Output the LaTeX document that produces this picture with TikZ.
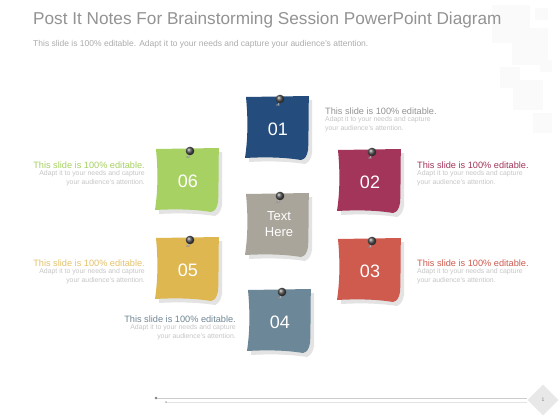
\documentclass[tikz,border=0pt]{standalone}
\usepackage{fontspec}
\setmainfont{Liberation Sans}
\usetikzlibrary{shapes.geometric}

\definecolor{noteblue}{HTML}{244C7C}
\definecolor{notewine}{HTML}{A3345A}
\definecolor{notered}{HTML}{CF5A4E}
\definecolor{noteslate}{HTML}{6C8798}
\definecolor{noteyellow}{HTML}{DFB751}
\definecolor{notegreen}{HTML}{A7D162}
\definecolor{notestone}{HTML}{A9A59A}

\tikzset{
  notenum/.style={text=white,font=\fontsize{18}{18}\selectfont,inner sep=0pt},
  headtext/.style={inner sep=0pt,font=\fontsize{9.2}{10}\selectfont},
  smalltext/.style={inner sep=0pt,text=gray!45,font=\fontsize{6.9}{8.2}\selectfont},
  tile/.style={fill=gray!4},
}

% one post-it note: name, centre x, centre y, colour, label
\newcommand{\postit}[5]{%
  \begin{scope}[shift={(#2,#3)}]
    \fill[gray!22] (-29,-28) -- (34,-28) -- (34,25) .. controls (33,31) and (31,34) .. (27,36)
      .. controls (8,33) and (-12,33) .. (-29,34) -- cycle;
    \fill[#4] (-32,-31) -- (31,-32) .. controls (30,-10) and (31,10) .. (30,22)
      .. controls (29,28) and (27,31) .. (23,32) .. controls (5,29) and (-15,29) .. (-33,30)
      .. controls (-30,10) and (-30,-10) .. cycle;
    \node[notenum] (#1) at (0,1) {#5};
    % pin
    \fill[black!45,opacity=0.6] (0,-23) ellipse (2 and 1);
    \draw[gray!60,line width=0.7pt] (2,-27) -- (0,-23);
    \shade[ball color=gray!65!black] (2,-29) circle (4.3);
  \end{scope}}

% text beside a note: name, position, side (west/east), align, title colour
\newcommand{\blurb}[5]{%
  \node[headtext,anchor=north #3,text=#5] (#1) at #2 {This slide is 100\% editable.};
  \node[smalltext,anchor=north #3,align=#4] (#1s) at ([yshift=-2pt]#1.south #3)
    {Adapt it to your needs and capture\\your audience's attention.};}

\begin{document}
\begin{tikzpicture}[x=1pt,y=-1pt]
  \useasboundingbox[fill=white] (0,0) rectangle (560,420);

  % tiles top right
  \fill[tile] (492,5) rectangle (530,43);
  \fill[tile] (535,8) rectangle (548,20);
  \fill[tile] (512,28) rectangle (548,65);
  \fill[tile] (540,60) rectangle (552,72);
  \fill[tile] (500,67) rectangle (520,88);
  \fill[tile] (513,80) rectangle (543,110);
  \fill[tile] (533,113) rectangle (552,133);

  \node[anchor=west,inner sep=0pt,text=gray!85] (title) at (33,20)
    {\fontsize{17.2}{18}\selectfont Post It Notes For Brainstorming Session PowerPoint Diagram};
  \node[anchor=west,inner sep=0pt,text=gray!65] (subtitle) at (33,44)
    {\fontsize{8.5}{9}\selectfont This slide is 100\% editable. Adapt it to your needs and capture your audience's attention.};

  \postit{n01}{278}{128}{noteblue}{01}
  \postit{n02}{370}{181}{notewine}{02}
  \postit{n03}{370}{270}{notered}{03}
  \postit{n04}{280}{321}{noteslate}{04}
  \postit{n05}{188}{269}{noteyellow}{05}
  \postit{n06}{188}{180}{notegreen}{06}
  \postit{nc}{278}{225}{notestone}{}
  \node[text=white,align=center,font=\fontsize{13}{16.5}\selectfont] (centre) at (279,224) {Text\\Here};

  \blurb{t01}{(325,107.5)}{west}{left}{gray!85}
  \blurb{t02}{(417,161.5)}{west}{left}{notewine}
  \blurb{t03}{(417,259.5)}{west}{left}{notered}
  \blurb{t04}{(236,315.5)}{east}{right}{noteslate!85!gray}
  \blurb{t05}{(145,259.5)}{east}{right}{noteyellow!85!white}
  \blurb{t06}{(145,161.5)}{east}{right}{notegreen}

  % footer
  \node[diamond,fill=gray!18,minimum width=31pt,minimum height=31pt,inner sep=0pt,
        font=\fontsize{5}{5}\selectfont,text=gray] (page) at (543,400) {1};
  \coordinate (lineA) at (156,398);
  \coordinate (lineB) at (166,402);
  \draw[gray!40,line width=0.5pt] (lineA) -- (lineA -| page.west);
  \draw[gray!22,line width=0.5pt] (lineB) -- (lineB -| page.west);
  \fill[gray] (lineA) circle (1.3);
  \fill[gray!60] (lineB) circle (1);
\end{tikzpicture}
\end{document}
